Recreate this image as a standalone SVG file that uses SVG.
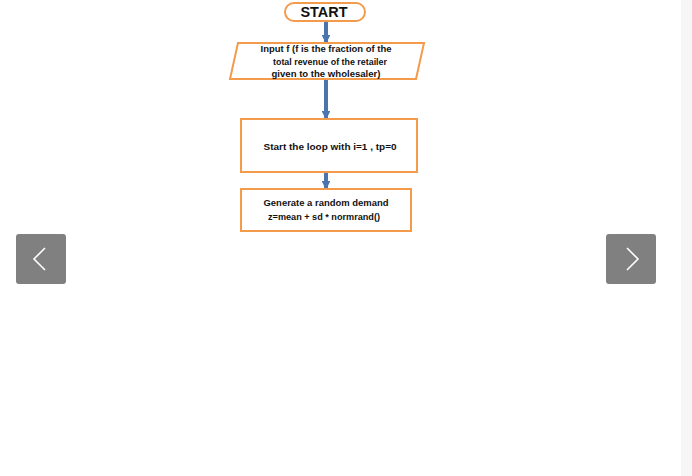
<svg xmlns="http://www.w3.org/2000/svg" width="692" height="476" viewBox="0 0 692 476">
<defs>
<style>
.sh{fill:#fff;stroke:#f39b4b;stroke-width:2}
.t{font-family:"Liberation Sans",Arial,sans-serif;font-weight:bold;font-size:9px;fill:#111;text-anchor:middle}
.c{stroke:#4a76ad;stroke-width:4}
.btn{fill:#808080}
.chev{fill:none;stroke:#fff;stroke-width:1.6}
</style>
<marker id="ah" viewBox="0 0 10 10" refX="8" refY="5" markerWidth="2.2" markerHeight="2.2" orient="auto"><path d="M0,0L10,5L0,10z" fill="#4a76ad"/></marker>
</defs>
<rect width="692" height="476" fill="#fff"/>
<rect x="681" y="0" width="11" height="476" fill="#f6f6f6"/>
<g id="connectors">
<line class="c" x1="326" y1="21" x2="326" y2="42" marker-end="url(#ah)"/>
<line class="c" x1="326" y1="80" x2="326" y2="118" marker-end="url(#ah)"/>
<line class="c" x1="326" y1="173" x2="326" y2="188" marker-end="url(#ah)"/>
</g>
<g id="start">
<rect class="sh" x="285" y="3" width="80" height="18" rx="9"/>
<text class="t" x="324" y="17" style="font-size:14px" textLength="47" lengthAdjust="spacingAndGlyphs">START</text>
</g>
<g id="input">
<polygon class="sh" points="238,43 424,43 416,79 230,79"/>
<text class="t" x="326" y="52" textLength="131" lengthAdjust="spacingAndGlyphs">Input f (f is the fraction of the</text>
<text class="t" x="330" y="65" textLength="114" lengthAdjust="spacingAndGlyphs">total revenue of the retailer</text>
<text class="t" x="326" y="77" textLength="109" lengthAdjust="spacingAndGlyphs">given to the wholesaler)</text>
</g>
<g id="loop">
<rect class="sh" x="241" y="119" width="176" height="53"/>
<text class="t" x="330" y="150" textLength="133" lengthAdjust="spacingAndGlyphs">Start the loop with i=1 , tp=0</text>
</g>
<g id="generate">
<rect class="sh" x="241" y="189" width="170" height="42"/>
<text class="t" x="326" y="206" textLength="125" lengthAdjust="spacingAndGlyphs">Generate a random demand</text>
<text class="t" x="324" y="220" textLength="112" lengthAdjust="spacingAndGlyphs">z=mean + sd * normrand()</text>
</g>
<g id="prev">
<rect class="btn" x="16" y="234" width="50" height="50" rx="3"/>
<polyline class="chev" points="45,248 34,259 45,270"/>
</g>
<g id="next">
<rect class="btn" x="606" y="234" width="50" height="50" rx="3"/>
<polyline class="chev" points="627,248 638,259 627,270"/>
</g>
</svg>
